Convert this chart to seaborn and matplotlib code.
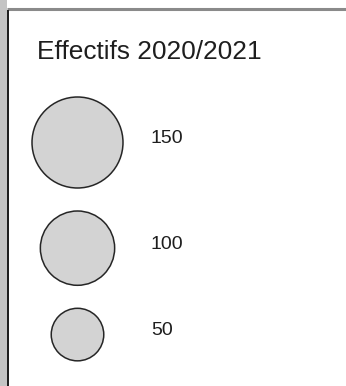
import pandas as pd
import numpy as np
import matplotlib.pyplot as plt
import seaborn as sns

sns.set_style("white")
plt.rcParams['font.family'] = ['Liberation Sans', 'DejaVu Sans']

titre = "Effectifs 2020/2021"
effectifs = [150, 100, 50]
etiquettes = ["150", "100", "50"]

# rayon du plus grand cercle en pixels, cercles proportionnels a la surface
r_max = 45.5
rayons = [r_max * np.sqrt(v / max(effectifs)) for v in effectifs]

# empilement des cercles de haut en bas
haut = 97
ecart = 23
centres = []
for r in rayons:
    centres.append(haut + r)
    haut = haut + 2 * r + ecart

df = pd.DataFrame({"x": [77.5] * len(effectifs), "y": centres,
                   "effectif": effectifs, "label": etiquettes})

fig = plt.figure(figsize=(3.46, 3.86), dpi=100)
ax = fig.add_axes([0, 0, 1, 1])
ax.set_xlim(0, 346)
ax.set_ylim(386, 0)
ax.axis("off")

# cadre
ax.fill_between([0, 7], 0, 386, color="#c4c4c4", lw=0)
ax.plot([7, 346], [9, 9], color="#8a8a8a", lw=2.2, solid_capstyle="butt")
ax.plot([8, 8], [10, 386], color="#1a1a1a", lw=1.4, solid_capstyle="butt")

s_max = (2 * r_max * 72 / 100) ** 2
sns.scatterplot(data=df, x="x", y="y", size="effectif", sizes=(0, s_max),
                size_norm=(0, max(effectifs)), color="#d3d3d3",
                edgecolor="#262626", linewidth=1.1, legend=False, ax=ax)

for _, row in df.iterrows():
    ax.text(151, row["y"] - 4, row["label"], fontsize=14, color="#1e1e1e",
            va="center", ha="left")

ax.text(37, 59, titre, fontsize=18.9, color="#1e1e1e", va="baseline", ha="left")

plt.savefig("out.png", dpi=100)
